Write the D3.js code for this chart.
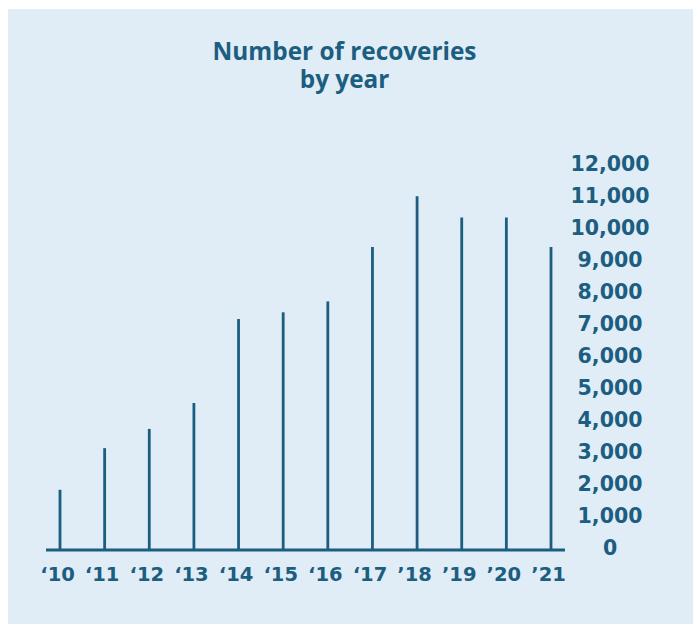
<!DOCTYPE html>
<html>
<head>
<meta charset="utf-8">
<script src="https://cdn.jsdelivr.net/npm/d3@7"></script>
<style>
  html, body { margin: 0; padding: 0; background: #ffffff; }
  svg { display: block; }
</style>
</head>
<body>
<svg id="chart"></svg>
<script>
// Data
const years = ["2010", "2011", "2012", "2013", "2014", "2015", "2016", "2017", "2018", "2019", "2020", "2021"];
const yearLabels = ["\u201810", "\u201811", "\u201812", "\u201813", "\u201814", "\u201815", "\u201816", "\u201817", "\u201918", "\u201919", "\u201920", "\u201921"];
const recoveries = [1880, 3180, 3780, 4590, 7210, 7420, 7760, 9460, 11040, 10380, 10380, 9460];
const yTicks = [0, 1000, 2000, 3000, 4000, 5000, 6000, 7000, 8000, 9000, 10000, 11000, 12000];
const titleLines = ["Number of recoveries", "by year"];

const width = 693;
const height = 624;
const ink = "#1b5e80";

const svg = d3.select("#chart")
    .attr("width", width)
    .attr("height", height);

// light blue panel
svg.append("rect")
    .attr("x", 8).attr("y", 9)
    .attr("width", width - 8).attr("height", height - 9)
    .attr("fill", "#e0ecf6");

// title (slightly narrowed to mimic the condensed face)
svg.append("text")
    .attr("transform", "translate(344.5, 60) scale(0.955, 1)")
    .attr("text-anchor", "middle")
    .attr("fill", ink)
    .style("font-family", "'Open Sans', sans-serif")
    .style("font-weight", 700)
    .style("font-size", "25.5px")
    .selectAll("tspan")
    .data(titleLines)
    .join("tspan")
    .attr("x", 0)
    .attr("dy", (d, i) => i === 0 ? 0 : 27.5)
    .text(d => d);

// scales
const x = d3.scalePoint()
    .domain(years)
    .range([60, 551]);

const y = d3.scaleLinear()
    .domain([0, 12000])
    .range([550, 165.6]);

// bars (thin lines)
svg.append("g")
    .selectAll("line")
    .data(recoveries)
    .join("line")
    .attr("x1", (d, i) => x(years[i]))
    .attr("x2", (d, i) => x(years[i]))
    .attr("y1", y(0))
    .attr("y2", d => y(d))
    .attr("stroke", ink)
    .attr("stroke-width", 2.8);

// baseline
svg.append("line")
    .attr("x1", x.range()[0] - 14)
    .attr("x2", x.range()[1] + 14)
    .attr("y1", y(0))
    .attr("y2", y(0))
    .attr("stroke", ink)
    .attr("stroke-width", 3);

// x axis labels
const xAxis = d3.axisBottom(x)
    .tickSize(0)
    .tickPadding(0)
    .tickFormat((d, i) => yearLabels[i]);

svg.append("g")
    .attr("transform", `translate(0, ${y(0) + 17})`)
    .call(xAxis)
    .call(g => g.select(".domain").remove())
    .selectAll("text")
    .attr("fill", ink)
    .attr("dx", -3)
    .style("font-family", "'DejaVu Sans', sans-serif")
    .style("font-weight", 700)
    .style("font-size", "19.5px");

// y axis labels (centred column on the right)
const yAxis = d3.axisRight(y)
    .tickValues(yTicks)
    .tickSize(0)
    .tickPadding(0)
    .tickFormat(d3.format(","));

svg.append("g")
    .attr("transform", "translate(610, 0)")
    .call(yAxis)
    .call(g => g.select(".domain").remove())
    .selectAll("text")
    .attr("fill", ink)
    .attr("text-anchor", "middle")
    .attr("dy", "0.24em")
    .style("font-family", "'DejaVu Sans', sans-serif")
    .style("font-weight", 700)
    .style("font-size", "20.5px");
</script>
</body>
</html>
